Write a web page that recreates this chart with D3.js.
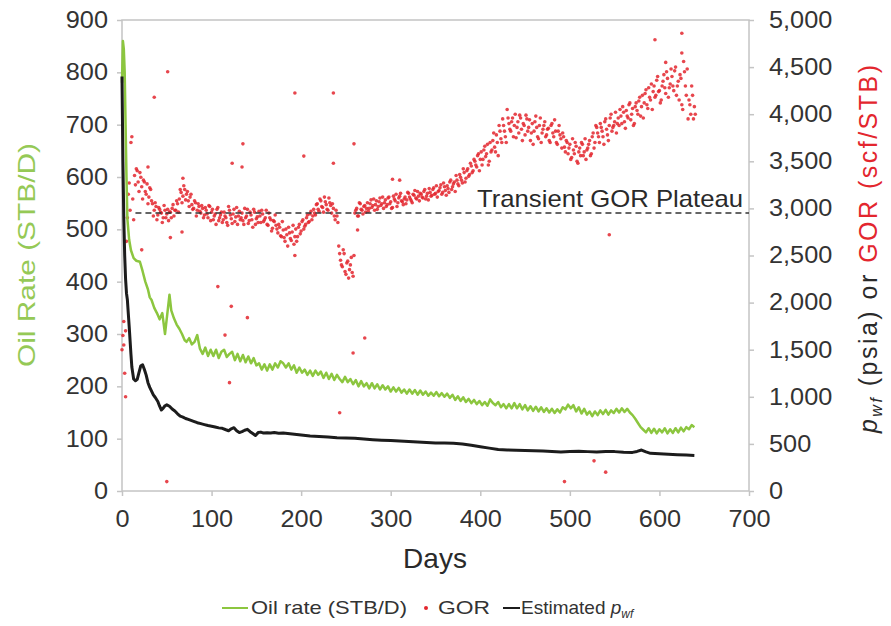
<!DOCTYPE html>
<html><head><meta charset="utf-8">
<script src="https://cdn.jsdelivr.net/npm/d3@7"></script>
<style>body{margin:0;background:#fff}svg{display:block}text{font-family:"Liberation Sans",Arial,sans-serif}</style>
</head><body><svg id="c" width="891" height="626"></svg>
<script>
// ---------- DATA ----------
const xTicks = [0,100,200,300,400,500,600,700];
const leftTicks = [0,100,200,300,400,500,600,700,800,900];
const rightTicks = [0,500,1000,1500,2000,2500,3000,3500,4000,4500,5000];

// Oil rate (STB/D) [day, rate]
const oilRate = [[0,780],[1,860],[2,845],[3,800],[4,700],[5,600],[6,520],[8,480],[10,460],[13,445],[16,440],[20,438],
[23,420],[26,400],[29,385],[31,370],[33,365],[36,350],[39,340],[42,328],[45,340],[48,300],[50,330],[53,375],[55,345],
[58,330],[61,318],[64,310],[67,300],[70,288],[72,285],[75,292],[78,280],[81,285],[84,298],
[87,272],[90,262],[93,274],[96,258],[99,270],[102,258],[105,270],[108,254],[111,266],[114,270],[117,256],[120,262],
[123,266],[126,250],[129,262],[132,248],[135,260],[138,246],[141,257],[144,244],[147,254],[150,240],[153,244],[156,232],
[159,242],[162,230],[165,242],[168,232],[171,244],[174,236],[177,248],[180,244],[183,236],[186,244],[189,232],[192,240],
[195,226],[198,236],[201,226],[204,232],[207,222],[210,230],[213,220],[216,230],[219,222],[222,228],[225,216],[228,226],
[231,214],[234,224],[237,212],[240,222],[243,214],[246,208],[249,218],[252,208],[255,214],[258,204],[261,212],[264,200],
[267,210],[270,200],[273,206],[276,196],[279,206],[282,196],[285,204],[288,194],[291,202],[294,194],[297,200],[300,190],
[303,198],[306,190],[309,197],[312,188],[315,194],[318,186],[321,194],[324,186],[327,193],[330,184],[333,192],[336,184],
[339,190],[342,182],[345,188],[348,182],[351,189],[354,181],[357,187],[360,180],[363,186],[366,178],[369,184],[372,174],
[375,181],[378,172],[381,179],[384,170],[387,176],[390,168],[393,174],[396,166],[399,172],[402,164],[405,170],[408,163],
[411,175],[414,168],[417,164],[420,170],[423,160],[426,166],[429,158],[432,166],[435,158],[438,168],[441,158],[444,166],
[447,156],[450,164],[453,154],[456,162],[459,153],[462,161],[465,152],[468,160],[471,151],[474,158],[477,150],[480,157],
[483,149],[486,156],[489,150],[492,160],[495,156],[498,165],[501,158],[504,164],[507,152],[510,160],[513,148],[516,157],
[519,146],[522,152],[525,143],[528,152],[531,145],[534,154],[537,147],[540,155],[543,146],[546,154],[549,149],[552,157],
[555,150],[558,158],[561,151],[564,157],[567,150],[570,145],[573,138],[576,130],[579,122],[582,117],[585,112],[588,120],
[591,111],[594,119],[597,110],[600,118],[603,112],[606,120],[609,110],[612,118],[615,111],[618,120],[621,112],[624,121],
[627,114],[630,122],[633,118],[636,126],[639,122]];

// Estimated bottomhole flowing pressure (psia) [day, pwf]
const pwfEstimated = [[0,4400],[1,3500],[2,2900],[3,2500],[4,2250],[5,2100],[6,2030],[8,1750],[10,1450],[11,1316],[13,1190],
[15,1170],[17,1185],[19,1260],[21,1330],[23,1340],[25,1290],[27,1230],[29,1150],[31,1100],[33,1060],[35,1020],[37,995],
[40,950],[42,900],[44,860],[46,880],[48,905],[50,915],[53,900],[56,870],[59,850],[62,820],[65,795],[68,785],[71,770],
[74,760],[77,750],[80,740],[84,725],[88,715],[92,705],[96,695],[100,688],[104,680],[108,670],[112,665],[116,650],[119,640],
[122,660],[125,672],[128,640],[131,620],[134,630],[137,645],[140,655],[143,630],[146,610],[149,590],[152,620],[155,625],
[158,615],[162,618],[166,615],[170,620],[175,612],[180,616],[185,610],[190,605],[195,600],[200,594],[210,583],[220,578],
[230,572],[240,565],[250,562],[260,560],[270,552],[280,545],[290,540],[300,535],[310,530],[320,525],[330,520],[340,515],
[350,510],[360,510],[370,508],[380,500],[390,485],[400,470],[410,455],[420,440],[430,435],[440,432],[450,430],[460,428],
[470,425],[480,420],[490,415],[500,420],[510,422],[520,418],[530,414],[540,420],[550,418],[560,412],[570,410],[575,420],
[580,435],[585,415],[590,400],[600,395],[610,390],[620,385],[630,382],[639,378]];

// GOR (scf/STB) [day, gor] - even days
const gorMain = [[0,1500],[1,1650],[2,1800],[3,1250],[4,1000],[5,2650],[6,2900],[7,3150],[8,3270],[9,2980],[10,3700],[11,3760],[12,3100],[13,2880],
[14,3350],[16,3420],[18,3280],[20,3380],[22,3230],[24,3300],[26,3180],[28,3260],[30,3120],[32,3200],
[34,3050],[36,2980],[38,3020],[40,2930],[42,2990],[44,2950],[46,2900],[48,2980],[50,2940],[52,2870],
[54,2960],[56,3000],[58,2920],[60,2980],[62,3050],[64,3100],[66,3170],[68,3130],[70,3200],[72,3150],
[74,3080],[76,3120],[78,3040],[80,3000],[82,3060],[84,2980],[86,3020],[88,2950],[90,3000],[92,2930],
[94,2980],[96,2900],[98,3020],[100,2960],[102,2880],[104,2940],[106,2990],[108,2870],[110,2930],[112,2850],
[114,2960],[116,2900],[118,2820],[120,2980],[122,2890],[124,2940],[126,2860],[128,3010],[130,2920],[132,2880],
[134,2950],[136,2830],[138,2900],[140,2990],[142,2870],[144,2930],[146,2800],[148,2960],[150,2890],[152,2850],
[154,2920],[156,2980],[158,2860],[160,2900],[162,2830],[164,2950],[166,2880],[168,2790],[170,2860],[172,2820],
[174,2740],[176,2800],[178,2700],[180,2770],[182,2650],[184,2720],[186,2800],[188,2680],[190,2750],[192,2620],
[194,2780],[196,2700],[198,2830],[200,2760],[202,2880],[204,2810],[206,2900],[208,2850],[210,2940],[212,2880],
[214,2990],[216,2930],[218,3050],[220,2970],[222,3080],[224,3010],[226,3120],[228,3040],[230,2980],[232,3060],
[234,2950],[236,3000],[238,2880],[240,2920],[242,2600],[244,2450],[246,2380],[248,2520],[250,2300],[252,2440],
[254,2350],[256,2480],[258,2280],[260,2950],[262,3000],[264,2920],[266,3050],[268,2980],[270,3020],[272,2960],
[274,3060],[276,3000],[278,3090],[280,3030],[282,2980],[284,3080],[286,3020],[288,3110],[290,3050],[292,3000],
[294,3090],[296,3040],[298,3120],[300,3070],[302,3010],[304,3100],[306,3150],[308,3060],[310,3130],[312,3080],
[314,3040],[316,3120],[318,3090],[320,3160],[322,3100],[324,3060],[326,3140],[328,3110],[330,3180],[332,3080],
[334,3150],[336,3110],[338,3200],[340,3130],[342,3090],[344,3170],[346,3140],[348,3220],[350,3160],[352,3120],
[354,3190],[356,3250],[358,3170],[360,3230],[362,3140],[364,3210],[366,3280],[368,3200],[370,3260],[372,3180],
[374,3300],[376,3240],[378,3330],[380,3270],[382,3380],[384,3320],[386,3420],[388,3360],[390,3450],[392,3400],
[394,3500],[396,3440],[398,3580],[400,3520],[402,3460],[404,3620],[406,3550],[408,3680],[410,3500],[412,3600],
[414,3720],[416,3650],[418,3780],[420,3560],[422,3820],[424,3700],[426,3880],[428,3760],[430,4050],[432,3900],
[434,3820],[436,3960],[438,3880],[440,3750],[442,3920],[444,3990],[446,3840],[448,3900],[450,3780],[452,3950],
[454,3860],[456,3720],[458,3900],[460,3820],[462,3980],[464,3760],[466,3880],[468,3700],[470,3840],[472,3920],
[474,3780],[476,3850],[478,3700],[480,3900],[482,3760],[484,3820],[486,3680],[488,3880],[490,3740],[492,3800],
[494,3650],[496,3720],[498,3580],[500,3680],[502,3540],[504,3620],[506,3700],[508,3500],[510,3600],[512,3560],
[514,3680],[516,3600],[518,3520],[520,3640],[522,3720],[524,3580],[526,3800],[528,3700],[530,3860],[532,3760],
[534,3900],[536,3820],[538,3680],[540,3950],[542,3780],[544,3880],[546,4000],[548,3860],[550,3920],[552,3800],
[554,3960],[556,4050],[558,3900],[560,4020],[562,3850],[564,3980],[566,4100],[568,3940],[570,4060],[572,3900],
[574,4120],[576,4000],[578,4180],[580,4080],[582,3960],[584,4220],[586,4100],[588,4280],[590,4150],[592,4050],
[594,4300],[596,4200],[598,4400],[600,4250],[602,4150],[604,4350],[606,4280],[608,4450],[610,4180],[612,4320],
[614,4400],[616,4250],[618,4500],[620,4300],[622,4150],[624,4380],[626,4050],[628,4450],[630,4200],[632,3950],
[634,4100],[636,4300],[638,3950],[640,4000]];

// GOR (scf/STB) [day, gor] - odd days
const gorOdd = [[15,3250],[17,3400],[19,3180],[21,3330],[23,3100],[25,3280],[27,3150],[29,3050],[31,3220],[33,3080],
[35,2920],[37,3060],[39,2880],[41,3010],[43,2960],[45,2850],[47,3030],[49,2900],[51,2990],[53,2960],
[55,2900],[57,3040],[59,2980],[61,3080],[63,2960],[65,3200],[67,3060],[69,3240],[71,3090],[73,3180],
[75,3020],[77,3150],[79,2990],[81,3080],[83,2920],[85,3050],[87,2970],[89,3030],[91,2900],[93,3010],
[95,2940],[97,3030],[99,2870],[101,2990],[103,2920],[105,2830],[107,3010],[109,2900],[111,2960],[113,2880],
[115,2920],[117,2850],[119,3020],[121,2930],[123,2840],[125,2990],[127,2910],[129,2830],[131,2970],[133,2900],
[135,2870],[137,3000],[139,2920],[141,2840],[143,2960],[145,2880],[147,2990],[149,2830],[151,2910],[153,2970],
[155,2850],[157,2940],[159,2880],[161,2980],[163,2820],[165,2900],[167,2760],[169,2870],[171,2930],[173,2780],
[175,2830],[177,2710],[179,2860],[181,2690],[183,2780],[185,2600],[187,2740],[189,2660],[191,2820],[193,2700],
[195,2650],[197,2800],[199,2730],[201,2860],[203,2780],[205,2830],[207,2930],[209,2860],[211,2970],[213,2920],
[215,2950],[217,3040],[219,2990],[221,3100],[223,3020],[225,2960],[227,3070],[229,2990],[231,3110],[233,3030],
[235,3050],[237,2920],[239,2980],[241,2850],[243,2520],[245,2400],[247,2560],[249,2330],[251,2420],[253,2260],
[255,2400],[257,2320],[259,2500],[261,2980],[263,2920],[265,3060],[267,2990],[269,2940],[271,3030],[273,3000],
[275,2970],[277,3050],[279,3010],[281,3100],[283,3040],[285,2990],[287,3070],[289,3030],[291,3120],[293,3060],
[295,3020],[297,3110],[299,3050],[301,3000],[303,3130],[305,3080],[307,3020],[309,3110],[311,3160],[313,3070],
[315,3100],[317,3050],[319,3170],[321,3120],[323,3080],[325,3150],[327,3190],[329,3100],[331,3130],[333,3160],
[335,3120],[337,3180],[339,3100],[341,3160],[343,3210],[345,3130],[347,3200],[349,3150],[351,3240],[353,3180],
[355,3220],[357,3150],[359,3270],[361,3190],[363,3240],[365,3170],[367,3300],[369,3230],[371,3280],[373,3350],
[375,3260],[377,3360],[379,3300],[381,3420],[383,3280],[385,3400],[387,3340],[389,3480],[391,3380],[393,3520],
[395,3460],[397,3560],[399,3400],[401,3600],[403,3520],[405,3660],[407,3580],[409,3460],[411,3700],[413,3620],
[415,3800],[417,3600],[419,3700],[421,3880],[423,3740],[425,3950],[427,3820],[429,3700],[431,3960],[433,3840],
[435,3920],[437,3760],[439,4000],[441,3860],[443,3800],[445,3960],[447,3720],[449,3880],[451,3990],[453,3820],
[455,3940],[457,3800],[459,3680],[461,3920],[463,3860],[465,3740],[467,3960],[469,3800],[471,3880],[473,3760],
[475,3840],[477,3720],[479,3880],[481,3800],[483,3940],[485,3700],[487,3820],[489,3780],[491,3640],[493,3760],
[495,3600],[497,3700],[499,3640],[501,3520],[503,3740],[505,3580],[507,3660],[509,3480],[511,3640],[513,3700],
[515,3560],[517,3740],[519,3620],[521,3680],[523,3560],[525,3760],[527,3640],[529,3880],[531,3800],[533,3700],
[535,3860],[537,3760],[539,3920],[541,3840],[543,3720],[545,3960],[547,3820],[549,3880],[551,4020],[553,3900],
[555,3880],[557,3980],[559,4080],[561,3920],[563,4040],[565,3960],[567,4120],[569,4000],[571,3880],[573,4080],
[575,4040],[577,4140],[579,3980],[581,4200],[583,4120],[585,4260],[587,4060],[589,4180],[591,4320],[593,4240],
[595,4180],[597,4360],[599,4240],[601,4120],[603,4300],[605,4420],[607,4220],[609,4380],[611,4280],[613,4480],
[615,4300],[617,4460],[619,4200],[621,4350],[623,4420],[625,4100],[627,4560],[629,4300],[631,4480],[633,4150],
[635,4000],[637,4200],[639,4080]];

const gorOutliers = [[36,4180],[51,4450],[193,4225],[236,4225],[135,3685],[123,3480],[134,3440],[203,3555],[236,3480],
[259,3685],[302,3310],[310,3300],[68,3320],[29,3440],[22,2560],[54,2690],[67,2750],[193,2500],[107,2170],[122,1960],
[140,1840],[115,1655],[120,1150],[258,1465],[243,830],[271,1625],[544,2720],[50,100],[527,320],[540,200],[494,100],
[595,4790],[625,4860],[625,4650],[607,4550],[263,2770],[2,1550],[4,1700]];

const plateau = {gor: 2950, from: 15, to: 700, label: "Transient GOR Plateau"};

// ---------- CHART ----------
const svg = d3.select("#c");
const x = d3.scaleLinear().domain([0,700]).range([122,749]);
const yL = d3.scaleLinear().domain([0,900]).range([491,20]);
const yR = d3.scaleLinear().domain([0,5000]).range([491,20]);

const GREEN = "#8cc63f", RED = "#e3262e", BLACK = "#1c1c1c", AXIS = "#c4c4c4", TXT = "#333";

// frame
svg.append("rect").attr("x",x(0)).attr("y",yL(900)).attr("width",x(700)-x(0)).attr("height",yL(0)-yL(900))
  .attr("fill","none").attr("stroke",AXIS).attr("stroke-width",1.5);

function styleAxis(g){
  g.select(".domain").remove();
  g.selectAll(".tick line").attr("stroke",AXIS).attr("stroke-width",1.5);
  g.selectAll(".tick text").attr("fill",TXT).attr("font-size",23)
    .attr("font-family","'Liberation Sans',Arial,sans-serif")
    .each(function(){ const L=this.getComputedTextLength(); d3.select(this).attr("textLength",L*1.1).attr("lengthAdjust","spacingAndGlyphs"); });
}
svg.append("g").attr("transform",`translate(${x(0)},0)`)
  .call(d3.axisLeft(yL).tickValues(leftTicks).tickSize(5).tickPadding(9)).call(styleAxis);
svg.append("g").attr("transform",`translate(${x(700)},0)`)
  .call(d3.axisRight(yR).tickValues(rightTicks).tickFormat(d3.format(",")).tickSize(5).tickPadding(15)).call(styleAxis);
svg.append("g").attr("transform",`translate(0,${yL(0)})`)
  .call(d3.axisBottom(x).tickValues(xTicks).tickSize(5).tickPadding(15)).call(styleAxis);

// GOR points
svg.append("g").selectAll("circle").data(gorMain.concat(gorOdd, gorOutliers)).join("circle")
  .attr("cx",d=>x(d[0])).attr("cy",d=>yR(d[1])).attr("r",1.8).attr("fill",RED).attr("opacity",0.85);

// oil rate line
svg.append("path").datum(oilRate).attr("fill","none").attr("stroke",GREEN).attr("stroke-width",2.5)
  .attr("stroke-linejoin","round").attr("d",d3.line().x(d=>x(d[0])).y(d=>yL(d[1])));

// pwf line
svg.append("path").datum(pwfEstimated).attr("fill","none").attr("stroke",BLACK).attr("stroke-width",3)
  .attr("stroke-linejoin","round").attr("d",d3.line().x(d=>x(d[0])).y(d=>yR(d[1])));

// plateau
svg.append("line").attr("x1",x(plateau.from)).attr("x2",x(plateau.to)).attr("y1",yR(plateau.gor)).attr("y2",yR(plateau.gor))
  .attr("stroke","#333").attr("stroke-width",1.5).attr("stroke-dasharray","6,4");
svg.append("text").attr("x",477).attr("y",207).attr("font-size",24).attr("fill","#2a2a2a")
  .attr("textLength",266).attr("lengthAdjust","spacingAndGlyphs").text(plateau.label);

// axis titles
svg.append("text").attr("x",435).attr("y",568).attr("text-anchor","middle").attr("font-size",28).attr("fill","#2a2a2a").text("Days");
svg.append("text").attr("transform","translate(35,367) rotate(-90)").attr("font-size",24).attr("fill","#95c956")
  .attr("textLength",224).attr("lengthAdjust","spacingAndGlyphs").text("Oil Rate (STB/D)");
const rt = svg.append("text").attr("transform","translate(877,433) rotate(-90)").attr("font-size",25)
  .attr("fill","#2a2a2a").attr("textLength",368).attr("lengthAdjust","spacing");
rt.append("tspan").attr("font-style","italic").text("p");
rt.append("tspan").attr("font-style","italic").attr("font-size",16).attr("dy",5).text("wf");
rt.append("tspan").attr("dy",-5).text(" (psia) or ");
rt.append("tspan").attr("fill",RED).text("GOR (scf/STB)");

// legend
const ly = 608;
svg.append("line").attr("x1",222).attr("x2",248).attr("y1",ly).attr("y2",ly).attr("stroke",GREEN).attr("stroke-width",2);
svg.append("text").attr("x",251).attr("y",ly+6).attr("font-size",19).attr("fill",TXT)
  .attr("textLength",156).attr("lengthAdjust","spacingAndGlyphs").text("Oil rate (STB/D)");
svg.append("circle").attr("cx",426).attr("cy",ly).attr("r",2).attr("fill",RED);
svg.append("text").attr("x",438).attr("y",ly+6).attr("font-size",19).attr("fill",TXT)
  .attr("textLength",52).attr("lengthAdjust","spacingAndGlyphs").text("GOR");
svg.append("line").attr("x1",503).attr("x2",520).attr("y1",ly).attr("y2",ly).attr("stroke",BLACK).attr("stroke-width",2);
const lt = svg.append("text").attr("x",521).attr("y",ly+6).attr("font-size",19).attr("fill",TXT);
lt.append("tspan").text("Estimated ");
lt.append("tspan").attr("font-style","italic").text("p");
lt.append("tspan").attr("font-style","italic").attr("font-size",12).attr("dy",4).text("wf");
</script></body></html>
